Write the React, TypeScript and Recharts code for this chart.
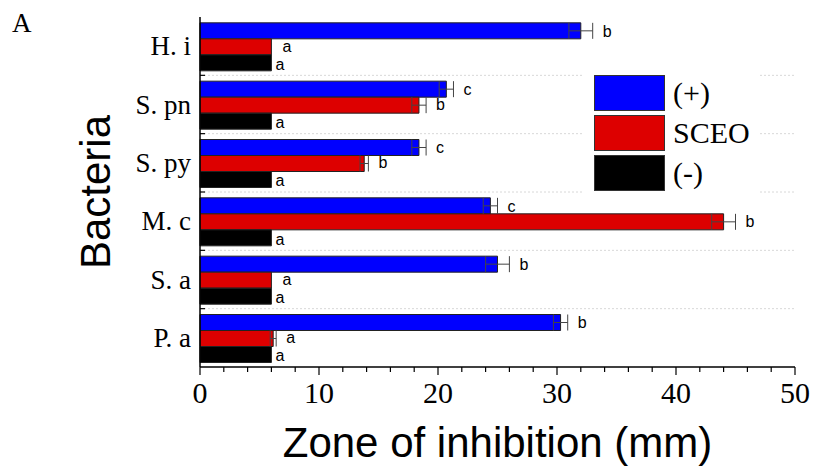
import { BarChart, Bar, XAxis, YAxis, ErrorBar, LabelList, Legend, CartesianGrid, Label } from 'recharts'

const categories = ['H. i', 'S. pn', 'S. py', 'M. c', 'S. a', 'P. a']
const positive = [32.0, 20.7, 18.4, 24.4, 25.0, 30.3]
const positiveErr = [1.0, 0.6, 0.6, 0.6, 1.0, 0.6]
const positiveLetters = ['b', 'c', 'c', 'c', 'b', 'b']
const sceo = [6.0, 18.4, 13.8, 44.0, 6.0, 6.15]
const sceoErr = [0, 0.6, 0.35, 1.0, 0, 0.25]
const sceoLetters = ['a', 'b', 'b', 'b', 'a', 'a']
const negative = [6.0, 6.0, 6.0, 6.0, 6.0, 6.0]
const negativeErr = [0, 0, 0, 0, 0, 0]
const negativeLetters = ['a', 'a', 'a', 'a', 'a', 'a']
const seriesNames = ['(+)', 'SCEO', '(-)']
const seriesColors = ['#0000ff', '#dd0000', '#000000']
const xTicks = [0, 2, 4, 6, 8, 10, 12, 14, 16, 18, 20, 22, 24, 26, 28, 30, 32, 34, 36, 38, 40, 42, 44, 46, 48, 50]

const data = categories.map((name, i) => ({
  name,
  pos: positive[i],
  posErr: positiveErr[i],
  sceo: sceo[i],
  sceoErr: sceoErr[i],
  neg: negative[i],
}))

const W = 813
const H = 470
const M = { top: 17, right: 18, left: 0, bottom: 0 }
const Y_W = 200
const PLOT_H = 350
const X_MAX = 50
const PX = (W - M.left - M.right - Y_W) / X_MAX
const BAND = PLOT_H / categories.length

const serif = '"Liberation Serif", "Times New Roman", serif'
const sans = '"Liberation Sans", Arial, sans-serif'

// letter sits just past the error bar; zero-error bars get their own gap
const letterLabel = (errs: number[], letters: string[], gap: number, dy: number) => (props: any) => {
  const { x, y, width, height, index } = props
  const e = errs[index] ?? 0
  const dx = e > 0 ? e * PX + 10 : gap
  return (
    <text x={x + width + dx} y={y + height / 2 + dy} dy="0.36em" fontSize={16} fontFamily={sans} fill="#000">
      {letters[index]}
    </text>
  )
}

function XTick({ x, y, payload }: any) {
  const major = payload.value % 10 === 0
  return (
    <g>
      <line x1={x} x2={x} y1={y} y2={y + (major ? 8 : 5)} stroke="#000" strokeWidth={1.2} />
      {major && (
        <text x={x} y={y + 36} textAnchor="middle" fontSize={30} fontFamily={serif} fill="#000">
          {payload.value}
        </text>
      )}
    </g>
  )
}

function YTick({ x, y, payload, index }: any) {
  return (
    <g>
      {index < categories.length - 1 && (
        <line x1={x} x2={x + 5} y1={y + BAND / 2} y2={y + BAND / 2} stroke="#000" strokeWidth={1.2} />
      )}
      <text x={x - 9} y={y} dy="0.34em" textAnchor="end" fontSize={27} fontFamily={serif} fill="#000">
        {payload.value}
      </text>
    </g>
  )
}

function LegendBox() {
  return (
    <div style={{ background: '#fff', padding: '4px 10px' }}>
      {seriesNames.map((n, i) => (
        <div key={n} style={{ display: 'flex', alignItems: 'center', height: 40 }}>
          <div style={{ width: 71, height: 36, background: seriesColors[i], border: '1px solid #333', boxSizing: 'border-box' }} />
          <span style={{ marginLeft: 8, fontFamily: serif, fontSize: 30, color: '#000' }}>{n}</span>
        </div>
      ))}
    </div>
  )
}

export default function App() {
  return (
    <div style={{ position: 'relative', width: W, height: H }}>
      <style>{`body{margin:0}`}</style>
      <div style={{ position: 'absolute', left: 12, top: 8, fontFamily: serif, fontSize: 27, zIndex: 2 }}>A</div>
      <BarChart width={W} height={H} data={data} layout="vertical" margin={M} barCategoryGap="10%" barGap={0}>
        <CartesianGrid
          vertical={false}
          stroke="#d8d8d8"
          strokeDasharray="2 2"
          horizontalCoordinatesGenerator={({ offset }: any) =>
            categories.slice(1).map((_, k) => offset.top + (offset.height * (k + 1)) / categories.length)
          }
        />
        <XAxis
          type="number"
          domain={[0, X_MAX]}
          ticks={xTicks}
          interval={0}
          tick={<XTick />}
          tickLine={false}
          tickSize={0}
          tickMargin={0}
          height={H - M.top - PLOT_H}
          axisLine={{ stroke: '#000', strokeWidth: 1.5 }}
        >
          <Label value="Zone of inhibition (mm)" position="insideBottom" offset={13} fontSize={42} fontFamily={sans} fill="#000" />
        </XAxis>
        <XAxis xAxisId="top" orientation="top" type="number" domain={[0, X_MAX]} tick={false} tickLine={false} height={0} axisLine={{ stroke: '#000', strokeWidth: 1.5 }} />
        <YAxis
          type="category"
          dataKey="name"
          width={Y_W}
          tickLine={false}
          tickSize={0}
          tickMargin={0}
          tick={<YTick />}
          axisLine={{ stroke: '#000', strokeWidth: 1.5 }}
        >
          <Label value="Bacteria" position="center" angle={-90} dx={-5} fontSize={42} fontFamily={sans} fill="#000" />
        </YAxis>
        <YAxis yAxisId="right" orientation="right" type="number" tick={false} tickLine={false} width={0} axisLine={{ stroke: '#000', strokeWidth: 1.5 }} />
        <Legend layout="vertical" align="center" verticalAlign="middle" content={<LegendBox />} wrapperStyle={{ left: 584, top: 69, width: 'auto' }} />
        <Bar dataKey="pos" name={seriesNames[0]} fill={seriesColors[0]} stroke="#222" strokeWidth={1} isAnimationActive={false}>
          <ErrorBar dataKey="posErr" direction="x" width={8} stroke="#444" strokeWidth={1} />
          <LabelList dataKey="pos" content={letterLabel(positiveErr, positiveLetters, 10, 0)} />
        </Bar>
        <Bar dataKey="sceo" name={seriesNames[1]} fill={seriesColors[1]} stroke="#222" strokeWidth={1} isAnimationActive={false}>
          <ErrorBar dataKey="sceoErr" direction="x" width={8} stroke="#444" strokeWidth={1} />
          <LabelList dataKey="sceo" content={letterLabel(sceoErr, sceoLetters, 11, -1)} />
        </Bar>
        <Bar dataKey="neg" name={seriesNames[2]} fill={seriesColors[2]} stroke="#222" strokeWidth={1} isAnimationActive={false}>
          <LabelList dataKey="neg" content={letterLabel(negativeErr, negativeLetters, 4, 1)} />
        </Bar>
      </BarChart>
    </div>
  )
}
